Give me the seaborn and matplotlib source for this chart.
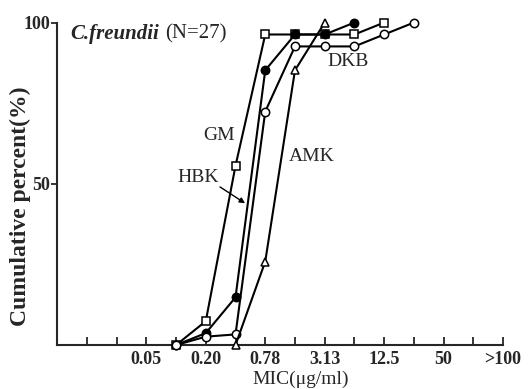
import matplotlib
matplotlib.use("Agg")
import matplotlib.pyplot as plt
import seaborn as sns
import pandas as pd

# doubling dilution steps, index 0 = 0.0125 ug/ml
tick_labels = ["", "", "0.05", "", "0.20", "", "0.78", "", "3.13", "", "12.5", "", "50", "", ">100"]

gm_x = [3, 4, 5, 6, 7, 8, 9, 10]
gm_y = [0, 7.4, 55.6, 96.3, 96.3, 96.3, 96.3, 100]

hbk_x = [3, 4, 5, 6, 7, 8, 9]
hbk_y = [0, 3.7, 14.8, 85.2, 96.3, 96.3, 100]

dkb_x = [3, 4, 5, 6, 7, 8, 9, 10, 11]
dkb_y = [0, 2.6, 3.3, 72.4, 92.6, 92.6, 92.6, 96.3, 100]

amk_x = [5, 6, 7, 8]
amk_y = [0, 25.9, 85.2, 100]

sns.set_style("ticks")
plt.rcParams['font.family'] = ['Liberation Serif', 'DejaVu Serif']

fig = plt.figure(figsize=(5.29, 3.89), dpi=100)
ax = fig.add_axes([0.108, 0.113, 0.843, 0.829])

series = [
    (gm_x, gm_y, "s", "white"),
    (hbk_x, hbk_y, "o", "black"),
    (dkb_x, dkb_y, "o", "white"),
    (amk_x, amk_y, "^", "white"),
]
for xs, ys, mk, fc in series:
    df = pd.DataFrame({"x": xs, "y": ys})
    sns.lineplot(data=df, x="x", y="y", ax=ax, color="black", lw=1.5,
                 marker=mk, markersize=6, markerfacecolor=fc,
                 markeredgecolor="black", markeredgewidth=1.1, clip_on=False, zorder=3)

ax.set_xlim(-1, 14)
ax.set_ylim(0, 100)
ax.set_xticks(range(15))
ax.set_xticklabels(tick_labels, fontsize=13, fontweight="bold")
ax.set_yticks([50, 100])
ax.set_yticklabels(["50", "100"], fontsize=13, fontweight="bold")
ax.tick_params(axis="x", direction="in", length=6, width=1.3, pad=4)
ax.tick_params(axis="y", direction="out", length=4, width=1.3, pad=1)
for s in ["top", "right"]:
    ax.spines[s].set_visible(False)
for s in ["left", "bottom"]:
    ax.spines[s].set_linewidth(1.5)

ax.set_xlabel("MIC(μg/ml)", fontsize=14)
ax.xaxis.set_label_coords(0.545, -0.078)
ax.set_ylabel("Cumulative percent(%)", fontsize=17, fontweight="bold")
ax.yaxis.set_label_coords(-0.058, 0.43)

t1 = ax.text(0.03, 0.965, "C.freundii", transform=ax.transAxes, fontsize=15,
             fontstyle="italic", fontweight="bold", va="center", ha="left")
ax.annotate("(N=27)", xy=(1, 0.5), xycoords=t1, xytext=(4, 0),
            textcoords="offset points", fontsize=15, va="center", ha="left")

ax.text(4.45, 65, "GM", fontsize=14, ha="center", va="center")
ax.text(3.75, 52, "HBK", fontsize=14, ha="center", va="center")
ax.annotate("", xy=(5.4, 43.5), xytext=(4.4, 49.5),
            arrowprops=dict(arrowstyle="-|>", color="black", lw=1.0, mutation_scale=8))
ax.text(7.55, 58.5, "AMK", fontsize=14, ha="center", va="center")
ax.text(8.8, 88, "DKB", fontsize=14, ha="center", va="center")

fig.savefig("out.png", dpi=100)
